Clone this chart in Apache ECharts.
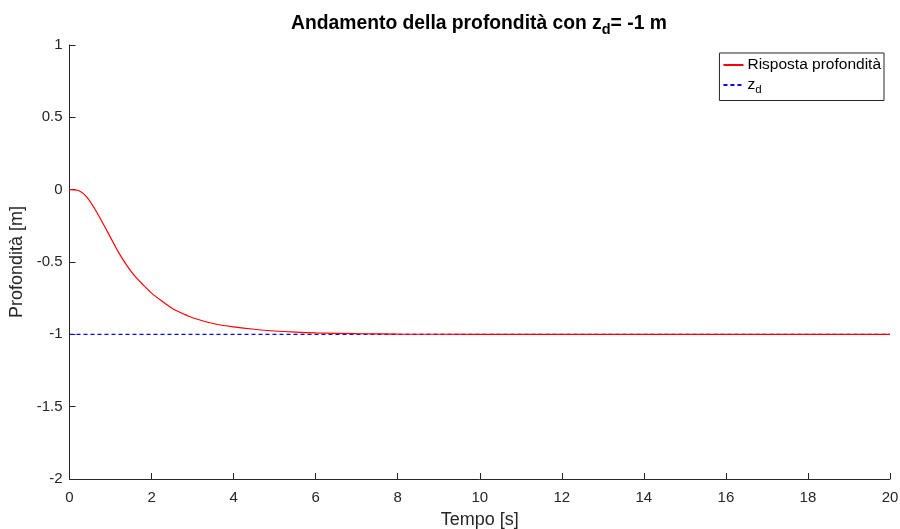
<!DOCTYPE html>
<html>
<head>
<meta charset="utf-8">
<script src="https://cdn.jsdelivr.net/npm/echarts@6/dist/echarts.min.js"></script>
<style>
  html, body { margin: 0; padding: 0; background: #fff; }
  #chart { width: 900px; height: 529px; }
</style>
</head>
<body>
<div id="chart"></div>
<script>
// dati
var timeValues = [0, 0.2, 0.4, 0.6, 0.8, 1.0, 1.2, 1.4, 1.6, 1.8, 2.0, 2.25, 2.5, 2.75, 3.0, 3.5, 4, 4.5, 5, 5.5, 6, 7, 8, 10, 12, 14, 16, 18, 20];
var depthValues = [0, -0.004, -0.045, -0.125, -0.225, -0.33, -0.435, -0.525, -0.60, -0.66, -0.715, -0.77, -0.82, -0.855, -0.885, -0.925, -0.948, -0.965, -0.977, -0.985, -0.99, -0.995, -0.998, -1, -1, -1, -1, -1, -1];
var zdTimes = [0, 20];
var zdValues = [-1, -1];
var seriesNames = ['Risposta profondità', 'zd'];

var axisColor = '#262626';
var fontFam = '"Liberation Sans", Arial, sans-serif';

function pairs(xs, ys) {
  return xs.map(function(x, i) { return [x, ys[i]]; });
}

var chart = echarts.init(document.getElementById('chart'));

var option = {
  animation: false,
  backgroundColor: '#fff',
  title: {
    text: '{b|Andamento della profondità con z}{s|d}{b|= -1 m}',
    left: 474,
    textAlign: 'center',
    top: 6,
    textStyle: {
      rich: {
        b: { fontFamily: fontFam, fontSize: 19.3, fontWeight: 'bold', color: '#000' },
        s: { fontFamily: fontFam, fontSize: 14.5, fontWeight: 'bold', color: '#000', padding: [11, 0, 0, 0] }
      }
    }
  },
  legend: {
    orient: 'vertical',
    right: 16,
    top: 53,
    data: seriesNames,
    borderColor: axisColor,
    borderWidth: 1,
    borderRadius: 0,
    backgroundColor: '#fff',
    padding: [4, 3, 5, 3],
    itemGap: 4,
    itemWidth: 20,
    itemHeight: 10,
    itemStyle: { color: 'rgba(0,0,0,0)', borderWidth: 0 },
    formatter: function(name) {
      return name === 'zd' ? '{t|z}{s|d}' : '{t|' + name + '}';
    },
    textStyle: {
      padding: [0, 0, 0, -1],
      rich: {
        t: { fontFamily: fontFam, fontSize: 15.5, color: '#000' },
        s: { fontFamily: fontFam, fontSize: 11.5, color: '#000', padding: [9, 0, 0, 0] }
      }
    }
  },
  grid: { left: 69.5, right: 10, top: 45, bottom: 50, containLabel: false, outerBoundsMode: 'none' },
  xAxis: {
    type: 'value',
    min: 0,
    max: 20,
    interval: 2,
    name: 'Tempo [s]',
    nameLocation: 'middle',
    nameGap: 32,
    nameTextStyle: { fontFamily: fontFam, fontSize: 18, color: axisColor },
    axisLine: { onZero: false, lineStyle: { color: axisColor, width: 1 } },
    axisTick: { inside: true, length: 6, lineStyle: { color: axisColor } },
    axisLabel: { fontFamily: fontFam, fontSize: 15, color: axisColor, margin: 11 },
    splitLine: { show: false }
  },
  yAxis: {
    type: 'value',
    min: -2,
    max: 1,
    interval: 0.5,
    name: 'Profondità [m]',
    nameLocation: 'middle',
    nameGap: 43,
    nameTextStyle: { fontFamily: fontFam, fontSize: 18, color: axisColor },
    axisLine: { show: true, onZero: false, lineStyle: { color: axisColor, width: 1 } },
    axisTick: { show: true, inside: true, length: 6, lineStyle: { color: axisColor } },
    axisLabel: { fontFamily: fontFam, fontSize: 15, color: axisColor, margin: 7 },
    splitLine: { show: false }
  },
  series: [
    {
      name: seriesNames[0],
      type: 'line',
      data: pairs(timeValues, depthValues),
      smooth: 0.3,
      symbol: 'none',
      lineStyle: { color: '#ff0000', width: 1.2 },
      itemStyle: { color: '#ff0000' },
      z: 3
    },
    {
      name: seriesNames[1],
      type: 'line',
      data: pairs(zdTimes, zdValues),
      symbol: 'none',
      lineStyle: { color: '#0000ff', width: 1.2, type: [4, 3] },
      itemStyle: { color: '#0000ff' },
      z: 2
    }
  ]
};

chart.setOption(option);
</script>
</body>
</html>
